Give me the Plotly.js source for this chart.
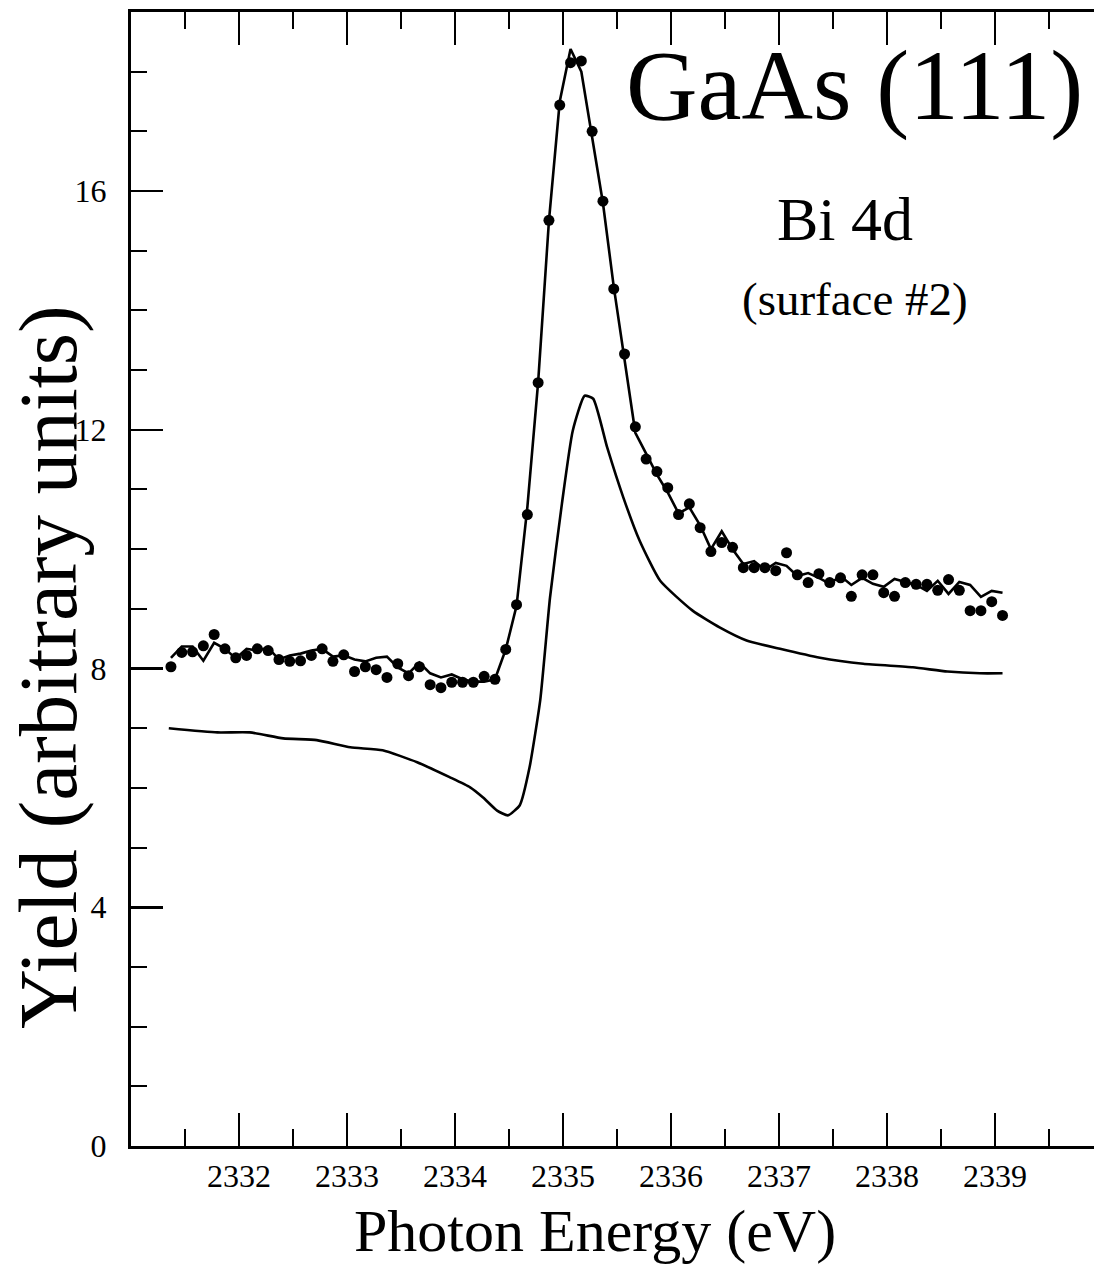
<!DOCTYPE html>
<html>
<head>
<meta charset="utf-8">
<script src="https://cdn.plot.ly/plotly-3.0.1.min.js"></script>
<style>
html,body{margin:0;padding:0;overflow:hidden;background:#fff;}
#chart{width:1094px;height:1266px;}
</style>
</head>
<body>
<div id="chart"></div>
<script>
// Measured data (dots), 0.1 eV step starting at 2331.37 eV
const dotStart = 2331.37;
const dotStep = 0.1;
const dotYield = [
  8.03, 8.27, 8.28, 8.38, 8.57, 8.33, 8.18, 8.22, 8.33, 8.30,
  8.15, 8.12, 8.13, 8.22, 8.33, 8.12, 8.23, 7.95, 8.03, 7.98,
  7.85, 8.08, 7.88, 8.03, 7.73, 7.68, 7.77, 7.77, 7.77, 7.87,
  7.82, 8.32, 9.07, 10.58, 12.79, 15.51, 17.44, 18.15, 18.18, 17.00,
  15.83, 14.36, 13.27, 12.05, 11.51, 11.30, 11.03, 10.58, 10.76, 10.36,
  9.96, 10.11, 10.03, 9.69, 9.69, 9.69, 9.64, 9.94, 9.57, 9.44,
  9.59, 9.44, 9.52, 9.21, 9.57, 9.57, 9.27, 9.21, 9.44, 9.41,
  9.41, 9.31, 9.49, 9.31, 8.97, 8.97, 9.12, 8.89
];
// Jagged solid line through the data (same energy grid)
const lineYield = [
  8.18, 8.37, 8.37, 8.13, 8.43, 8.33, 8.17, 8.33, 8.30, 8.35,
  8.15, 8.22, 8.25, 8.30, 8.33, 8.20, 8.22, 8.15, 8.12, 8.18,
  8.20, 8.02, 7.92, 8.10, 7.92, 7.85, 7.90, 7.82, 7.78, 7.78,
  7.82, 8.32, 9.05, 10.70, 12.80, 15.50, 17.50, 18.38, 18.00, 16.90,
  15.80, 14.40, 13.20, 11.95, 11.60, 11.25, 10.95, 10.60, 10.70, 10.40,
  10.00, 10.30, 10.00, 9.75, 9.80, 9.65, 9.77, 9.72, 9.55, 9.60,
  9.52, 9.42, 9.55, 9.40, 9.52, 9.42, 9.37, 9.50, 9.45, 9.40,
  9.30, 9.47, 9.25, 9.45, 9.40, 9.20, 9.30, 9.27
];
// Smooth lower (calculated) curve
const calcEnergy = [
  2331.35, 2331.80, 2332.10, 2332.41, 2332.72, 2333.03, 2333.33, 2333.65,
  2333.95, 2334.14, 2334.26, 2334.39, 2334.49, 2334.60, 2334.69, 2334.79,
  2334.88, 2334.99, 2335.09, 2335.20, 2335.28, 2335.41, 2335.56, 2335.71,
  2335.90, 2336.20, 2336.45, 2336.70, 2337.01, 2337.38, 2337.78, 2338.24,
  2338.56, 2338.86, 2339.07
];
const calcYield = [
  7.00, 6.93, 6.93, 6.83, 6.80, 6.68, 6.63, 6.43,
  6.18, 6.01, 5.84, 5.62, 5.54, 5.71, 6.34, 7.48,
  9.19, 10.76, 11.98, 12.57, 12.52, 11.70, 10.86, 10.14,
  9.47, 8.97, 8.69, 8.47, 8.33, 8.18, 8.08, 8.02,
  7.95, 7.92, 7.92
];
const xTickVals = [2332, 2333, 2334, 2335, 2336, 2337, 2338, 2339];
const xTickText = ["2332", "2333", "2334", "2335", "2336", "2337", "2338", "2339"];
const yTickVals = [0, 4, 8, 12, 16];
const yTickText = ["0", "4", "8", "12", "16"];

const dotEnergy = dotYield.map((_, i) => +(dotStart + i * dotStep).toFixed(2));

const FONT = "Liberation Serif, Times New Roman, serif";

const traces = [
  {x: calcEnergy, y: calcYield, type: "scatter", mode: "lines",
   line: {color: "#000", width: 2.6, shape: "spline", smoothing: 0.5}, name: "calc", showlegend: false, hoverinfo: "skip"},
  {x: dotEnergy, y: lineYield, type: "scatter", mode: "lines",
   line: {color: "#000", width: 2.6}, name: "line", showlegend: false, hoverinfo: "skip"},
  {x: dotEnergy, y: dotYield, type: "scatter", mode: "markers",
   marker: {color: "#000", size: 11, symbol: "circle"}, name: "data", showlegend: false}
];

const tickFont = {family: FONT, size: 32, color: "#000"};

const layout = {
  width: 1094, height: 1266,
  margin: {l: 131, r: 0, t: 12, b: 120},
  paper_bgcolor: "#fff", plot_bgcolor: "#fff",
  font: {family: FONT, color: "#000"},
  showlegend: false,
  xaxis: {
    range: [2331, 2339.917], tickmode: "array", tickvals: xTickVals, ticktext: xTickText,
    showgrid: false, zeroline: false, showline: true, linecolor: "#000", linewidth: 3,
    mirror: "ticks", ticks: "inside", tickcolor: "#000", tickwidth: 2.5, ticklen: 33,
    tickfont: tickFont, ticklabelstandoff: 0,
    minor: {dtick: 0.5, tick0: 2331, ticks: "inside", ticklen: 17, tickwidth: 2, tickcolor: "#000"}
  },
  yaxis: {
    range: [0, 19], tickmode: "array", tickvals: yTickVals, ticktext: yTickText,
    showgrid: false, zeroline: false, showline: true, linecolor: "#000", linewidth: 3,
    mirror: false, ticks: "inside", tickcolor: "#000", tickwidth: 2.5, ticklen: 32,
    tickfont: tickFont, ticklabelstandoff: 15,
    minor: {dtick: 1, tick0: 0, ticks: "inside", ticklen: 16, tickwidth: 2, tickcolor: "#000"}
  },
  yaxis2: {
    overlaying: "y", side: "right", range: [0, 19], tickmode: "array", tickvals: yTickVals,
    showticklabels: false, showgrid: false, zeroline: false, showline: false,
    ticks: "inside", tickcolor: "#000", tickwidth: 2.5, ticklen: 25,
    minor: {dtick: 1, tick0: 0, ticks: "inside", ticklen: 9, tickwidth: 2, tickcolor: "#000"}
  },
  annotations: [
    {text: "GaAs (111)", xref: "x", yref: "y", x: 2337.70, y: 17.76, showarrow: false,
     xanchor: "center", yanchor: "middle", font: {family: FONT, size: 99, color: "#000"}},
    {text: "Bi 4d", xref: "x", yref: "y", x: 2337.61, y: 15.53, showarrow: false,
     xanchor: "center", yanchor: "middle", font: {family: FONT, size: 62, color: "#000"}},
    {text: "(surface #2)", xref: "x", yref: "y", x: 2337.70, y: 14.19, showarrow: false,
     xanchor: "center", yanchor: "middle", font: {family: FONT, size: 47, color: "#000"}},
    {text: "Photon Energy (eV)", xref: "paper", yref: "paper", x: 0.4818, y: -0.075, showarrow: false,
     xanchor: "center", yanchor: "middle", font: {family: FONT, size: 60, color: "#000"}},
    {text: "Yield (arbitrary units)", xref: "paper", yref: "paper", x: -0.0862, y: 0.4224, showarrow: false,
     textangle: -90, xanchor: "center", yanchor: "middle", font: {family: FONT, size: 83, color: "#000"}}
  ]
};

Plotly.newPlot("chart", traces, layout, {displayModeBar: false, staticPlot: true});
</script>
</body>
</html>
